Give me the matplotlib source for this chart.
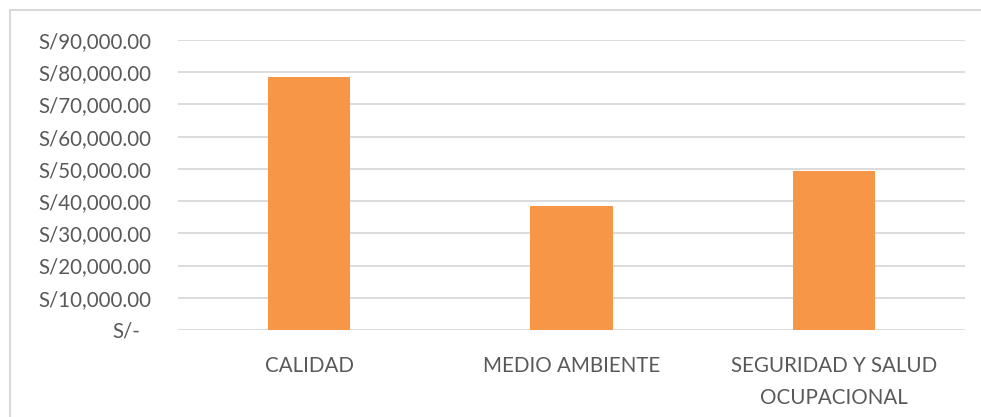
import matplotlib
matplotlib.use("Agg")
import matplotlib.pyplot as plt
from matplotlib.lines import Line2D
from matplotlib.ticker import FuncFormatter
from matplotlib.transforms import ScaledTranslation

categories = ["CALIDAD", "MEDIO AMBIENTE", "SEGURIDAD Y SALUD\nOCUPACIONAL"]
values = [78600, 38600, 49300]
ytick_values = [0, 10000, 20000, 30000, 40000, 50000, 60000, 70000, 80000, 90000]

plt.rcParams["font.family"] = ["Lato", "DejaVu Sans"]

W, H = 981, 417
fig = plt.figure(figsize=(W / 100, H / 100), dpi=100)

# outer chart-area border: top and left edges
border = dict(transform=fig.transFigure, color="#d9d9d9", linewidth=1.5)
fig.lines.append(Line2D([10 / W, 1.0], [1 - 10 / H, 1 - 10 / H], **border))
fig.lines.append(Line2D([10 / W, 10 / W], [0, 1 - 10 / H], **border))

left, right, top, bottom = 178, 965, 40, 330
ax = fig.add_axes([left / W, 1 - bottom / H, (right - left) / W, (bottom - top) / H])

x = range(len(categories))
ax.bar(x, values, width=0.313, color="#F79646", zorder=3)

ax.set_xlim(-0.5, len(categories) - 0.5)
ax.set_ylim(0, 90000)
ax.set_yticks(ytick_values)


def soles(v, pos):
    if v == 0:
        return "S/-"
    return "S/{:,.2f}".format(v)


ax.yaxis.set_major_formatter(FuncFormatter(soles))
ax.set_xticks(list(x))
ax.set_xticklabels(categories, linespacing=1.75)

ax.grid(axis="y", color="#d9d9d9", linewidth=1.3, zorder=0)
for s in ax.spines.values():
    s.set_visible(False)
ax.tick_params(axis="both", length=0, colors="#595959", labelsize=14.8)
ax.tick_params(axis="y", pad=19)
ax.tick_params(axis="x", pad=19)

# accounting-style alignment: the zero label sits a little left of the others
fig.canvas.draw()
zero_label = ax.get_yticklabels()[0]
zero_label.set_transform(zero_label.get_transform()
                         + ScaledTranslation(-11 / 100, 0, fig.dpi_scale_trans))

fig.savefig("out.png", dpi=100)
